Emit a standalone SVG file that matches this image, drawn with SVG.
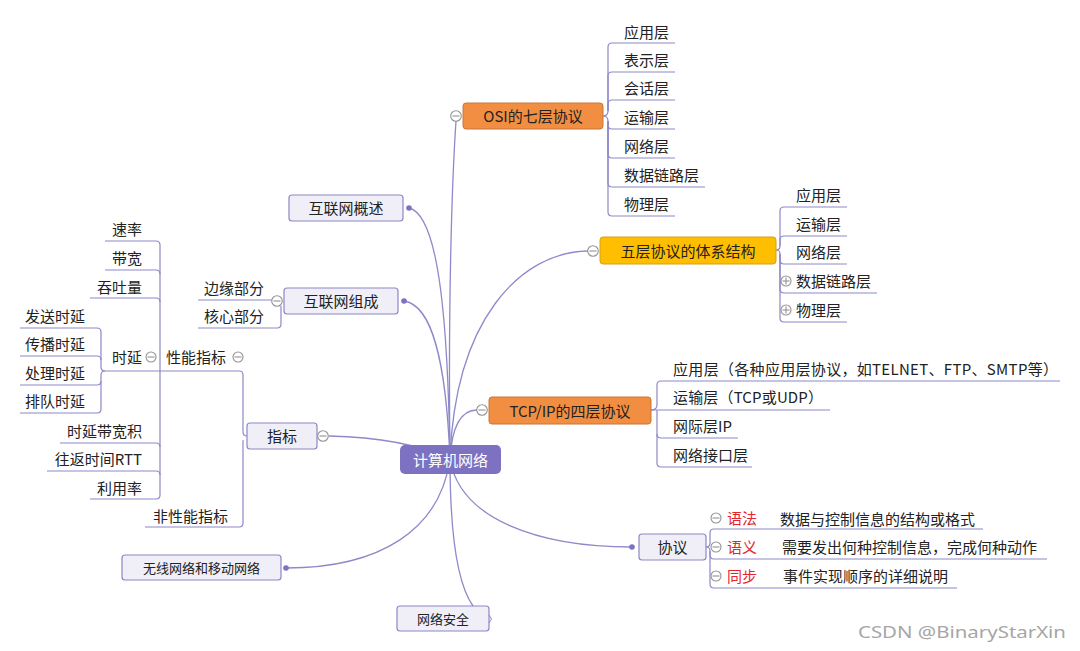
<svg xmlns="http://www.w3.org/2000/svg" width="1080" height="651" viewBox="0 0 1080 651">
<style>
  text { font-family: "Noto Sans CJK SC", "Noto Sans", sans-serif; font-size: 15px; fill: #222; dominant-baseline: central; }
  .conn { fill: none; stroke: #8E89C9; stroke-width: 1.3; }
  .ul { fill: none; stroke: #8E89C9; stroke-width: 1.2; }
  .box { fill: #F0EFF8; stroke: #8C87C6; stroke-width: 1.2; }
  .orange { fill: #F28E42; stroke: #C9763A; stroke-width: 1; }
  .gold { fill: #FFBF00; stroke: #D4A114; stroke-width: 1; }
  .center { fill: #7C72C1; }
  .ctr { text-anchor: middle; }
  .end { text-anchor: end; }
  .red { fill: #E3262D; }
  .tog { fill: #fff; stroke: #939393; stroke-width: 1.1; }
  .togl { stroke: #939393; stroke-width: 1.1; }
  .dot { fill: #7C72C1; }
  .small { font-size: 13px; }
  .wm { font-family: "Noto Sans", "Liberation Sans", sans-serif; font-size: 17px; fill: #A6A6A6; }
</style>

<g id="connectors">
  <path class="conn" d="M450,459 C448,300 452,180 456,121"/>
  <path class="conn" d="M450,459 C448,330 440,215 409,208"/>
  <path class="conn" d="M450,459 C446,360 432,305 404,301"/>
  <path class="conn" d="M450,459 C455,320 520,252 588,251"/>
  <path class="conn" d="M450,459 C452,425 462,410 477,410"/>
  <path class="conn" d="M450,459 C420,445 380,437 329,436"/>
  <path class="conn" d="M450,459 C460,520 540,547 632,547"/>
  <path class="conn" d="M450,459 C440,530 380,568 286,568"/>
  <path class="conn" d="M450,459 C450,540 458,585 473,606"/>

  <!-- OSI children -->
  <path class="ul" d="M603,116 Q608,116 608,111 L608,47 Q608,43 612,43 L675,43"/>
  <path class="ul" d="M608,111 L608,76 Q608,72 612,72 L675,72"/>
  <path class="ul" d="M608,111 L608,104 Q608,100 612,100 L675,100"/>
  <path class="ul" d="M603,116 Q608,116 608,121 L608,125 Q608,129 612,129 L675,129"/>
  <path class="ul" d="M608,121 L608,154 Q608,158 612,158 L675,158"/>
  <path class="ul" d="M608,121 L608,183 Q608,187 612,187 L705,187"/>
  <path class="ul" d="M608,121 L608,212 Q608,216 612,216 L675,216"/>

  <!-- five-layer children -->
  <path class="ul" d="M776,250 Q780,250 780,246 L780,211 Q780,207 784,207 L847,207"/>
  <path class="ul" d="M780,246 L780,240 Q780,236 784,236 L847,236"/>
  <path class="ul" d="M776,250 Q780,250 780,254 L780,260 Q780,264 784,264 L847,264"/>
  <path class="ul" d="M780,254 L780,289 Q780,293 784,293 L877,293"/>
  <path class="ul" d="M780,254 L780,318 Q780,322 784,322 L847,322"/>

  <!-- TCP/IP children -->
  <path class="ul" d="M651,410 Q657,410 657,405 L657,385 Q657,381 661,381 L1060,381"/>
  <path class="ul" d="M651,410 L830,410"/>
  <path class="ul" d="M657,410 L657,434 Q657,438 661,438 L738,438"/>
  <path class="ul" d="M657,434 L657,463 Q657,467 661,467 L752,467"/>

  <!-- protocol children -->
  <path class="ul" d="M706,547 Q710,547 710,543 L710,533 Q710,529 714,529 L983,529"/>
  <path class="ul" d="M706,547 Q710,547 710,551 L710,555 Q710,559 714,559 L1047,559"/>
  <path class="ul" d="M710,551 L710,584 Q710,588 714,588 L957,588"/>

  <!-- internet composition children -->
  <path class="ul" d="M198,300 L272,300"/>
  <path class="ul" d="M198,328 L277,328 Q281,328 281,324 L281,306"/>

  <!-- indicator children -->
  <path class="ul" d="M247,436 Q243,436 243,432 L243,375 Q243,371 239,371 L160,371"/>
  <path class="ul" d="M243,440 L243,523 Q243,527 239,527 L145,527"/>

  <!-- performance indicator children -->
  <path class="ul" d="M160,371 L160,245 Q160,241 156,241 L105,241"/>
  <path class="ul" d="M160,274 Q160,270 156,270 L105,270"/>
  <path class="ul" d="M160,302 Q160,298 156,298 L90,298"/>
  <path class="ul" d="M160,371 L105,371"/>
  <path class="ul" d="M160,371 L160,495 Q160,499 156,499 L90,499"/>
  <path class="ul" d="M160,447 Q160,443 156,443 L60,443"/>
  <path class="ul" d="M160,475 Q160,471 156,471 L47,471"/>

  <!-- delay children -->
  <path class="ul" d="M105,371 Q101,371 101,367 L101,332 Q101,328 97,328 L20,328"/>
  <path class="ul" d="M101,360 Q101,356 97,356 L20,356"/>
  <path class="ul" d="M105,371 Q101,371 101,375 L101,381 Q101,385 97,385 L20,385"/>
  <path class="ul" d="M101,381 L101,409 Q101,413 97,413 L20,413"/>
</g>

<g id="center">
  <rect class="center" x="400" y="445" width="101" height="29" rx="5"/>
  <text class="ctr" x="450.5" y="459" style="fill:#fff">计算机网络</text>
</g>

<g id="osi">
  <rect class="orange" x="463" y="103" width="140" height="26" rx="3"/>
  <text class="ctr" x="533" y="115.5">OSI的七层协议</text>
  <circle class="tog" cx="456" cy="116" r="5.3"/>
  <line class="togl" x1="452.5" y1="116" x2="459.5" y2="116"/>
</g>
<g id="osi-children">
  <text x="624" y="31">应用层</text>
  <text x="624" y="59">表示层</text>
  <text x="624" y="87">会话层</text>
  <text x="624" y="116">运输层</text>
  <text x="624" y="145">网络层</text>
  <text x="624" y="174">数据链路层</text>
  <text x="624" y="203">物理层</text>
</g>

<g id="five">
  <rect class="gold" x="600" y="237" width="176" height="27" rx="3"/>
  <text class="ctr" x="688" y="250">五层协议的体系结构</text>
  <circle class="tog" cx="593" cy="251" r="5.3"/>
  <line class="togl" x1="589.5" y1="251" x2="596.5" y2="251"/>
</g>
<g id="five-children">
  <text x="796" y="194">应用层</text>
  <text x="796" y="223">运输层</text>
  <text x="796" y="251">网络层</text>
  <circle class="tog" cx="786" cy="281" r="5"/>
  <line class="togl" x1="782.5" y1="281" x2="789.5" y2="281"/>
  <line class="togl" x1="786" y1="277.5" x2="786" y2="284.5"/>
  <text x="796" y="280">数据链路层</text>
  <circle class="tog" cx="786" cy="310" r="5"/>
  <line class="togl" x1="782.5" y1="310" x2="789.5" y2="310"/>
  <line class="togl" x1="786" y1="306.5" x2="786" y2="313.5"/>
  <text x="796" y="309">物理层</text>
</g>

<g id="tcpip">
  <rect class="orange" x="489" y="397" width="162" height="27" rx="3"/>
  <text class="ctr" x="570" y="410">TCP/IP的四层协议</text>
  <circle class="tog" cx="482" cy="410" r="5.3"/>
  <line class="togl" x1="478.5" y1="410" x2="485.5" y2="410"/>
</g>
<g id="tcpip-children">
  <text x="673" y="368" textLength="385" lengthAdjust="spacing">应用层（各种应用层协议，如TELNET、FTP、SMTP等）</text>
  <text x="673" y="396" textLength="150" lengthAdjust="spacing">运输层（TCP或UDP）</text>
  <text x="673" y="425">网际层IP</text>
  <text x="673" y="454">网络接口层</text>
</g>

<g id="protocol">
  <rect class="box" x="639" y="534" width="67" height="26" rx="3"/>
  <text class="ctr" x="672.5" y="546.5">协议</text>
  <circle class="dot" cx="632" cy="547" r="2.8"/>
</g>
<g id="protocol-children">
  <circle class="tog" cx="716" cy="518" r="5"/>
  <line class="togl" x1="712.5" y1="518" x2="719.5" y2="518"/>
  <text class="red" x="727" y="517.5">语法</text>
  <text x="780" y="518">数据与控制信息的结构或格式</text>
  <circle class="tog" cx="716" cy="547" r="5"/>
  <line class="togl" x1="712.5" y1="547" x2="719.5" y2="547"/>
  <text class="red" x="727" y="546.5">语义</text>
  <text x="782" y="546.5">需要发出何种控制信息，完成何种动作</text>
  <circle class="tog" cx="716" cy="576" r="5"/>
  <line class="togl" x1="712.5" y1="576" x2="719.5" y2="576"/>
  <text class="red" x="727" y="575.5">同步</text>
  <text x="783" y="575.5">事件实现顺序的详细说明</text>
</g>

<g id="overview">
  <rect class="box" x="289" y="195" width="114" height="26" rx="3"/>
  <text class="ctr" x="346" y="207.5">互联网概述</text>
  <circle class="dot" cx="409" cy="208" r="2.8"/>
</g>

<g id="composition">
  <rect class="box" x="284" y="288" width="114" height="26" rx="3"/>
  <text class="ctr" x="341" y="300.5">互联网组成</text>
  <circle class="dot" cx="404" cy="301" r="2.8"/>
  <circle class="tog" cx="277" cy="301" r="5.3"/>
  <line class="togl" x1="273.5" y1="301" x2="280.5" y2="301"/>
</g>
<g id="composition-children">
  <text class="end" x="264" y="287">边缘部分</text>
  <text class="end" x="264" y="315">核心部分</text>
</g>

<g id="indicator">
  <rect class="box" x="247" y="423" width="70" height="26" rx="3"/>
  <text class="ctr" x="282" y="435.5">指标</text>
  <circle class="tog" cx="323" cy="436" r="5.3"/>
  <line class="togl" x1="319.5" y1="436" x2="326.5" y2="436"/>
</g>
<g id="performance">
  <text x="166" y="356">性能指标</text>
  <circle class="tog" cx="238" cy="357" r="5"/>
  <line class="togl" x1="234.5" y1="357" x2="241.5" y2="357"/>
</g>
<g id="non-performance">
  <text class="end" x="228" y="515">非性能指标</text>
</g>
<g id="performance-children">
  <text class="end" x="142" y="228">速率</text>
  <text class="end" x="142" y="257">带宽</text>
  <text class="end" x="142" y="286">吞吐量</text>
  <text class="end" x="142" y="356">时延</text>
  <circle class="tog" cx="151" cy="357" r="5"/>
  <line class="togl" x1="147.5" y1="357" x2="154.5" y2="357"/>
  <text class="end" x="142" y="430">时延带宽积</text>
  <text class="end" x="142" y="458">往返时间RTT</text>
  <text class="end" x="142" y="487">利用率</text>
</g>
<g id="delay-children">
  <text x="25" y="315">发送时延</text>
  <text x="25" y="343">传播时延</text>
  <text x="25" y="372">处理时延</text>
  <text x="25" y="400">排队时延</text>
</g>

<g id="wireless">
  <rect class="box" x="122" y="555" width="159" height="25" rx="3"/>
  <text class="ctr small" x="201.5" y="567">无线网络和移动网络</text>
  <circle class="dot" cx="286" cy="568" r="2.8"/>
</g>

<g id="security">
  <rect class="box" x="397" y="606" width="92" height="25" rx="3"/>
  <text class="ctr small" x="443" y="618">网络安全</text>
  <path d="M489,615 L491.5,619 L489,623" fill="none" stroke="#8C87C6" stroke-width="1"/>
</g>

<text class="wm" x="858" y="631" textLength="208" lengthAdjust="spacingAndGlyphs">CSDN @BinaryStarXin</text>
</svg>
